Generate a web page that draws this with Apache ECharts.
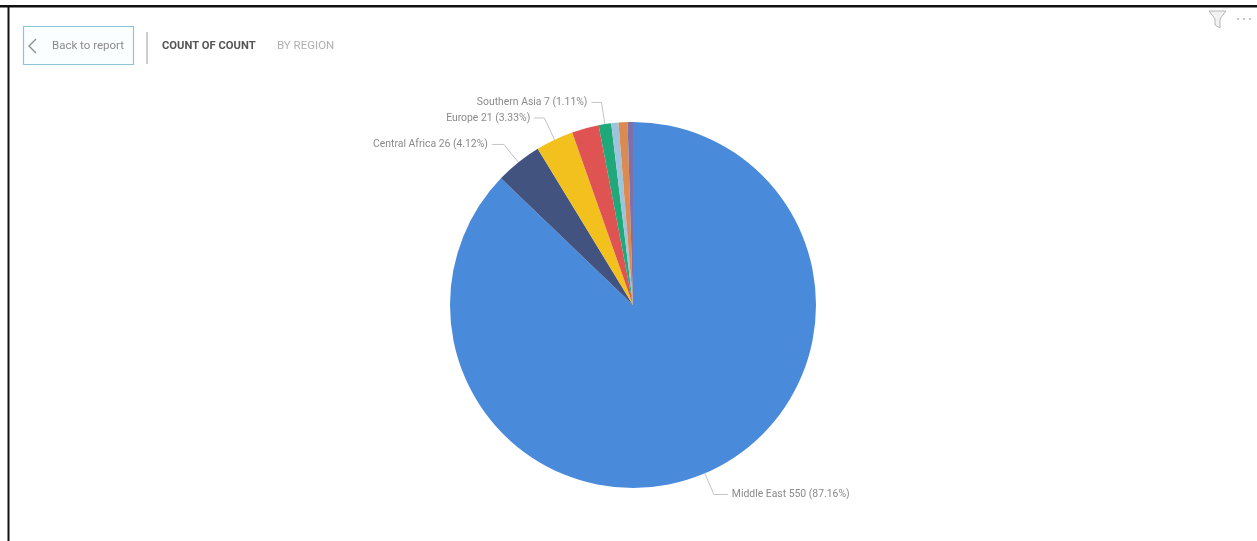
<!DOCTYPE html>
<html>
<head>
<meta charset="utf-8">
<style>html,body{margin:0;padding:0;background:#fff}#c{width:1257px;height:541px}</style>
<script src="https://cdn.jsdelivr.net/npm/echarts@6/dist/echarts.min.js"></script>
</head>
<body>
<div id="c"></div>
<script>
const regions = ['Middle East','Central Africa','Europe','Region D','Southern Asia','Region F','Region G','Region H'];
const counts = [550,26,21,15,7,4,5,3];
const colors = ['#4A8ADB','#43537F','#F2C11D','#DF5452','#1FA97A','#9DC3DD','#DB8A52','#7F70A8'];
const labelled = ['Middle East','Central Africa','Europe','Southern Asia'];
const total = counts.reduce((a,b)=>a+b,0);
const lineLens = {'Middle East':[23,14],'Central Africa':[23,12],'Europe':[24,10],'Southern Asia':[22,10]};

const chart = echarts.init(document.getElementById('c'),null,{renderer:'canvas'});
const grey = '#8a8a8a';
const font = 'Roboto, "Noto Sans", sans-serif';
chart.setOption({
  animation:false,
  backgroundColor:'#fff',
  graphic:[
    {type:'rect',shape:{x:0,y:5,width:1257,height:2.5},style:{fill:'#111'}},
    {type:'rect',shape:{x:7.5,y:5,width:2,height:536},style:{fill:'#111'}},
    {type:'rect',shape:{x:23.5,y:26.5,width:110,height:38},style:{fill:'#fbfeff',stroke:'#8fc4d8',lineWidth:1.2}},
    {type:'polyline',shape:{points:[[36,39],[29,46],[36,53]]},style:{fill:'none',stroke:'#8a9296',lineWidth:1.4}},
    {type:'text',style:{x:52,y:46,text:'Back to report',fill:'#8a8a8a',font:'11.5px '+font,verticalAlign:'middle'}},
    {type:'rect',shape:{x:146.5,y:32,width:1,height:32},style:{fill:'#9a9a9a'}},
    {type:'text',style:{x:162,y:46,text:'COUNT OF COUNT',fill:'#555',font:'bold 11.2px '+font,verticalAlign:'middle'}},
    {type:'text',style:{x:277,y:46,text:'BY REGION',fill:'#b0b0b0',font:'11.5px '+font,verticalAlign:'middle'}},
    {type:'polygon',shape:{points:[[1209,11],[1226,11],[1220,19],[1220,28],[1215,25],[1215,19]]},style:{fill:'#f2f2f2',stroke:'#b5b5b5',lineWidth:1}},
    {type:'circle',shape:{cx:1238,cy:19,r:1.1},style:{fill:'#b5b5b5'}},
    {type:'circle',shape:{cx:1244,cy:19,r:1.1},style:{fill:'#b5b5b5'}},
    {type:'circle',shape:{cx:1250,cy:19,r:1.1},style:{fill:'#b5b5b5'}}
  ],
  series:[{
    type:'pie',
    center:[633,305],
    radius:[0,183],
    startAngle:90,
    clockwise:true,
    avoidLabelOverlap:false,
    labelLayout:{hideOverlap:false,moveOverlap:false},
    data:regions.map((name,i)=>{
      const on = labelled.includes(name);
      const len = lineLens[name] || [10,10];
      return {
        name,value:counts[i],
        itemStyle:{color:colors[i]},
        label:{show:on},
        labelLine:{show:on,length:len[0],length2:len[1]}
      };
    }),
    label:{
      color:grey,fontSize:10.4,fontFamily:font,distanceToLabelLine:4,
      formatter:p=>p.name+' '+p.value+' ('+(p.value/total*100).toFixed(2)+'%)'
    },
    labelLine:{smooth:false,lineStyle:{color:'#c4c4c4',width:1}},
    emphasis:{disabled:true}
  }]
});
</script>
</body>
</html>
